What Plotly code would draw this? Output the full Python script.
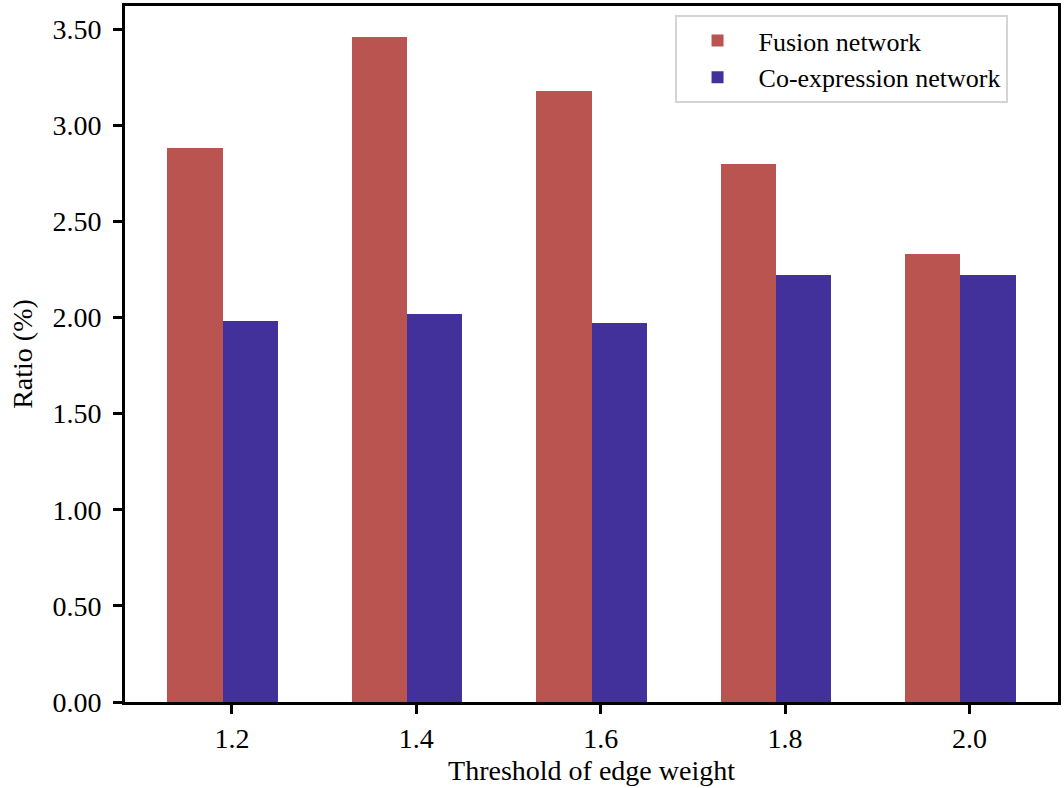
import plotly.graph_objects as go

categories = ["1.2", "1.4", "1.6", "1.8", "2.0"]
fusion = [2.88, 3.46, 3.18, 2.80, 2.33]
coexp = [1.98, 2.02, 1.97, 2.22, 2.22]
series_names = ["Fusion network", "Co-expression network"]
yticks = [0.0, 0.5, 1.0, 1.5, 2.0, 2.5, 3.0, 3.5]

idx = list(range(len(categories)))
width = 0.3
font = "Liberation Serif, Times New Roman, serif"

fig = go.Figure()
fig.add_trace(go.Bar(x=[i - 0.2 for i in idx], y=fusion, width=width,
                     name=series_names[0], marker=dict(color="#B95451", line=dict(width=0))))
fig.add_trace(go.Bar(x=[i + 0.1 for i in idx], y=coexp, width=width,
                     name=series_names[1], marker=dict(color="#42309B", line=dict(width=0))))

fig.update_layout(
    width=1064, height=788,
    margin=dict(l=125, r=4, t=3, b=86),
    paper_bgcolor="white", plot_bgcolor="white",
    font=dict(family=font, color="black", size=28),
    bargap=0, barmode="overlay",
    showlegend=True,
    legend=dict(x=0.589, y=0.987, xanchor="left", yanchor="top",
                bordercolor="#d4d4d4", borderwidth=2, bgcolor="white",
                font=dict(size=26, family=font), itemwidth=72,
                tracegroupgap=4),
)
fig.update_xaxes(
    range=[-0.58, 4.48], tickmode="array", tickvals=idx, ticktext=categories,
    showline=True, linecolor="black", linewidth=3, mirror=True,
    ticks="outside", ticklen=9, tickwidth=3, tickcolor="black",
    showgrid=False, zeroline=False,
    title=dict(text="Threshold of edge weight", font=dict(size=28), standoff=8),
    tickfont=dict(size=28),
)
fig.update_yaxes(
    range=[0, 3.62], tickmode="array", tickvals=yticks,
    ticktext=[f"{v:.2f}" for v in yticks],
    showline=True, linecolor="black", linewidth=3, mirror=True,
    ticks="outside", ticklen=9, tickwidth=3, tickcolor="black",
    showgrid=False, zeroline=False, ticklabelstandoff=6,
    title=dict(text="Ratio (%)", font=dict(size=28), standoff=12),
    tickfont=dict(size=28),
)

fig.write_html("out.html", config={"displayModeBar": False},
               post_script="document.body.style.margin='0';document.body.style.padding='0';")
